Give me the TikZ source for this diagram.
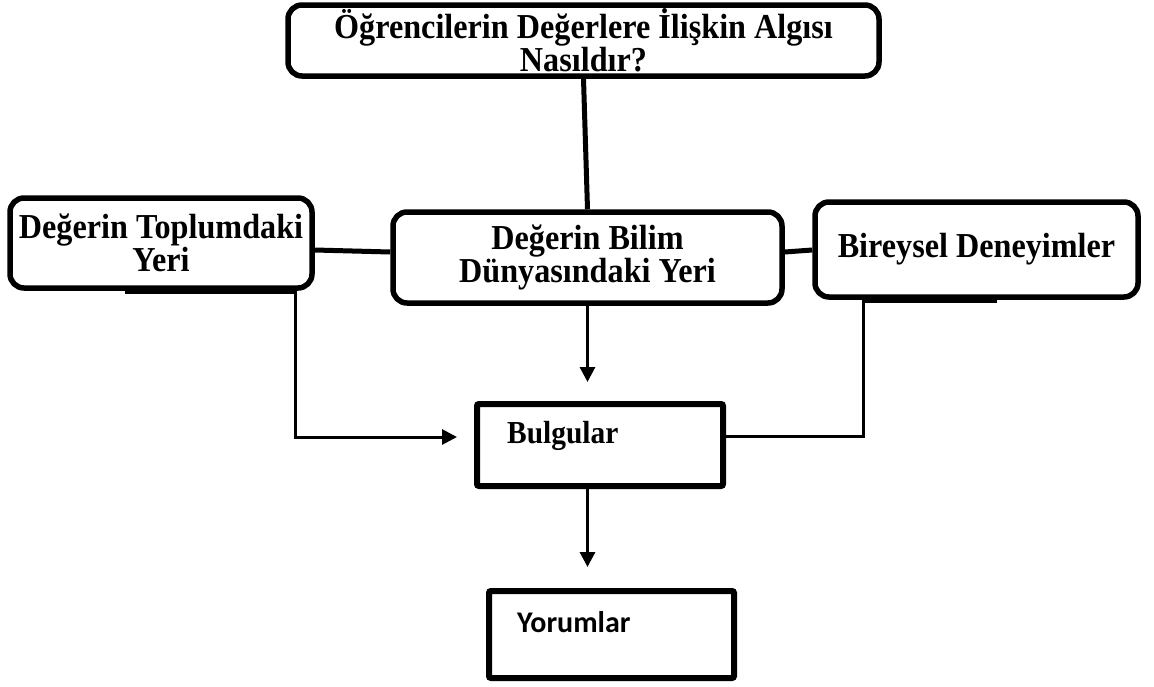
\documentclass[tikz,border=0pt]{standalone}
\usepackage{fontspec}
\setmainfont{Liberation Serif}[FakeStretch=0.92]
\newfontfamily\calibrifont{Carlito}
\usetikzlibrary{arrows.meta}

\begin{document}
\begin{tikzpicture}[x=1pt, y=1pt,
        roundbox/.style={draw, line width=5.5pt, rounded corners=14pt, align=center, inner sep=0pt,
                         font=\fontsize{35}{29}\selectfont\bfseries},
        sqbox/.style={draw, line width=6pt, rounded corners=2pt, inner sep=0pt},
        boxtext/.style={anchor=base west, inner sep=0pt},
        thickline/.style={line width=5pt},
        conn/.style={line width=3pt},
        arr/.style={conn, -{Triangle[length=15pt,width=15pt]}}]

                    \useasboundingbox (0,0) rectangle (1154,-686);

                    % question on top
                    \node[roundbox, minimum width=591, minimum height=71,
                          font=\fontsize{35}{31}\selectfont\bfseries] (soru) at (583.5,-40.5)
                        {Öğrencilerin Değerlere İlişkin Algısı\\Nasıldır?};

                    % the three sources
                    \node[roundbox, minimum width=302, minimum height=90,
                          font=\fontsize{35}{25}\selectfont\bfseries] (toplum) at (161,-243)
                        {Değerin Toplumdaki\\Yeri};
                    \node[roundbox, minimum width=389, minimum height=91] (bilim) at (587.5,-257.5)
                        {Değerin Bilim\\Dünyasındaki Yeri};
                    \node[roundbox, minimum width=323, minimum height=95] (birey) at (976.5,-249.5)
                        {Bireysel Deneyimler};

                    % results
                    \node[sqbox, minimum width=246, minimum height=82] (bulgu) at (600,-445) {};
                    \node[boxtext, font=\fontsize{32}{32}\selectfont\bfseries] (bulgutxt) at (507,-443) {Bulgular};
                    \node[sqbox, minimum width=245, minimum height=87] (yorum) at (611.5,-634.5) {};
                    \node[boxtext, font=\fontsize{30}{30}\calibrifont\bfseries] (yorumtxt) at (517,-632) {Yorumlar};

                    \draw[thickline] (soru.south) -- (bilim.north);
                    \draw[thickline] ([yshift=-7]toplum.east) -- ([yshift=5.5]bilim.west);
                    \draw[thickline] ([yshift=5.5]bilim.east) -- ([yshift=-0.5]birey.west);

                    \draw[arr, shorten >=17pt] ([xshift=118,yshift=-1.5]toplum.south west)
                        -- ([xshift=-19,yshift=-1.5]toplum.south east) |- ([yshift=8]bulgu.west);
                    \draw[arr, shorten >=19pt] (bilim.south) -- (bilim.south |- bulgu.north);
                    \draw[conn] ([xshift=185,yshift=-1.5]birey.south west)
                        -- ([xshift=51,yshift=-1.5]birey.south west) |- ([yshift=9]bulgu.east);
                    \draw[arr, shorten >=21pt] (bulgu.south -| bilim.south) -- (bilim.south |- yorum.north);
                    % \draw[conn] (bulgu) -- (yorum);
                \end{tikzpicture}
\end{document}
